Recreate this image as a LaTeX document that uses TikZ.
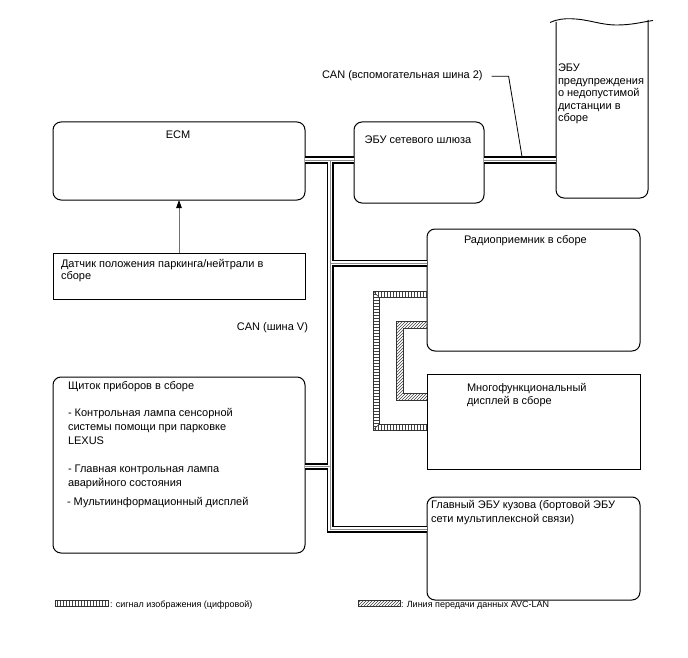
\documentclass[tikz,border=0pt]{standalone}
\usepackage{fontspec}
\setmainfont{Liberation Sans}
\usetikzlibrary{arrows.meta,patterns}
\begin{document}
\begin{tikzpicture}[x=1pt,y=-1pt,
  every node/.style={font=\fontsize{11}{12.5}\selectfont, inner sep=0pt, outer sep=0pt},
  bx/.style={draw, line width=1pt, anchor=north west, inner sep=0pt},
  rbx/.style={bx, rounded corners=8pt},
  txt/.style={anchor=base west, align=left},
  ls/.style={font=\fontsize{11}{#1}\selectfont},
  band/.style={line width=0.6pt, draw=black!80},
  hatch/.style={pattern color=black!75}]
\useasboundingbox (0,0) rectangle (688,658);

% boxes
\node[rbx, minimum width=252, minimum height=78] (ecm) at (53,122) {};
\node[bx,  minimum width=252, minimum height=46] (sensor) at (53,253) {};
\node[rbx, minimum width=130, minimum height=81] (gw) at (354,122) {};
\node[draw=none, anchor=north west, minimum width=92, minimum height=177] (warn) at (556,21) {};
\node[rbx, minimum width=213, minimum height=122] (radio) at (427,229) {};
\node[bx,  minimum width=213, minimum height=95] (multi) at (427,374) {};
\node[rbx, minimum width=252, minimum height=176] (cluster) at (53,377) {};
\node[rbx, minimum width=213, minimum height=103] (body) at (427,497) {};

% warning ECU outline with broken top
\draw[line width=1pt, rounded corners=8pt] ([yshift=-1pt]warn.north west) -- (warn.south west) -- (warn.south east) -- ([yshift=1pt]warn.north east);
\draw[line width=0.9pt] (550,22.5) .. controls (558,19) and (564,18.5) .. (572,18.8)
  .. controls (590,19.5) and (600,25) .. (617,25)
  .. controls (632,25) and (642,22) .. (653,20.5);

% texts
\node[anchor=base] (tecm) at (178,139) {ECM};
\node[anchor=base] (tgw) at (418,143) {ЭБУ сетевого шлюза};
\node[txt, ls=12.5] (twarn) at (558,122) {ЭБУ\\предупреждения\\о недопустимой\\дистанции в\\сборе};
\node[txt, ls=11.8] (tsensor) at (61,279) {Датчик положения паркинга/нейтрали в\\сборе};
\node[txt] (tcl1) at (68,389.5) {Щиток приборов в сборе};
\node[txt, ls=14] (tcl2) at (68,444) {- Контрольная лампа сенсорной\\системы помощи при парковке\\LEXUS};
\node[txt, ls=13.5] (tcl3) at (68,486) {- Главная контрольная лампа\\аварийного состояния};
\node[txt] (tcl4) at (67,505) {- Мультиинформационный дисплей};
\node[txt] (tradio) at (464,243.5) {Радиоприемник в сборе};
\node[txt, ls=13] (tmulti) at (467,404.5) {Многофункциональный\\дисплей в сборе};
\node[txt, ls=14] (tbody) at (431,522.5) {Главный ЭБУ кузова (бортовой ЭБУ\\сети мультиплексной связи)};
\node[txt] (tcan2) at (322,79) {CAN (вспомогательная шина 2)};
\node[anchor=base east] (tcanv) at (308,330.5) {CAN (шина V)};

% arrow sensor -> ECM
\draw[line width=0.9pt, draw=black!55, -{Triangle[length=8pt,width=5.5pt,color=black]}] (sensor.north) -- (ecm.south);

% bus junctions
\coordinate (j1) at (330,160);
\coordinate (j2) at (330,263);
\coordinate (jc) at (330,466.5);
\coordinate (j3) at (330,529);

\foreach \w/\c in {7/black,3.4/white,0.9/black!45}{
  \draw[line width=\w, draw=\c] (ecm.east |- j1) -- (gw.west |- j1);
  \draw[line width=\w, draw=\c] (gw.east |- j1) -- (warn.west |- j1);
  \draw[line width=\w, draw=\c, line join=miter] (j1) -- (j3) -- (body.west |- j3);
  \draw[line width=\w, draw=\c] (j2) -- (radio.west |- j2);
  \draw[line width=\w, draw=\c] (jc) -- (cluster.east |- jc);
}

% CAN label leader
\coordinate (canbus) at (522,156.5);
\draw[line width=0.8pt] ([xshift=9pt]tcan2.east) -- ++(17,0) -- (canbus);

% image signal (ladder band)
\path[hatch, pattern=vertical lines] (radio.west |- 0,291.5) -- (373.3,291.5) -- (379.3,297.5) -- (radio.west |- 0,297.5) -- cycle;
\path[hatch, pattern=horizontal lines] (373.3,291.5) -- (379.3,297.5) -- (379.3,424) -- (373.3,430) -- cycle;
\path[hatch, pattern=vertical lines] (373.3,430) -- (379.3,424) -- (multi.west |- 0,424) -- (multi.west |- 0,430) -- cycle;
\draw[band] (radio.west |- 0,291.5) -- (373.3,291.5) -- (373.3,430) -- (multi.west |- 0,430);
\draw[band] (radio.west |- 0,297.5) -- (379.3,297.5) -- (379.3,424) -- (multi.west |- 0,424);
\draw[band] (373.3,291.5) -- (379.3,297.5) (373.3,430) -- (379.3,424);

% AVC-LAN band
\path[hatch, pattern=north east lines] (radio.west |- 0,321.7) -- (396.2,321.7) -- (396.2,400.3) -- (multi.west |- 0,400.3)
  -- (multi.west |- 0,393.7) -- (402.8,393.7) -- (402.8,328.3) -- (radio.west |- 0,328.3) -- cycle;
\draw[band] (radio.west |- 0,321.7) -- (396.2,321.7) -- (396.2,400.3) -- (multi.west |- 0,400.3);
\draw[band] (radio.west |- 0,328.3) -- (402.8,328.3) -- (402.8,393.7) -- (multi.west |- 0,393.7);

% legend
\node[anchor=north west, minimum width=53, minimum height=6, hatch, pattern=vertical lines, draw=black!80, line width=0.6pt] (lg1) at (55,600.5) {};
\node[anchor=base west, font=\fontsize{9}{11}\selectfont] (tlg1) at (110,607) {: сигнал изображения (цифровой)};
\node[anchor=north west, minimum width=42, minimum height=6, hatch, pattern=north east lines, draw=black!80, line width=0.6pt] (lg2) at (358,600.5) {};
\node[anchor=base west, font=\fontsize{9}{11}\selectfont] (tlg2) at (401,607) {: Линия передачи данных AVC-LAN};
\end{tikzpicture}
\end{document}
